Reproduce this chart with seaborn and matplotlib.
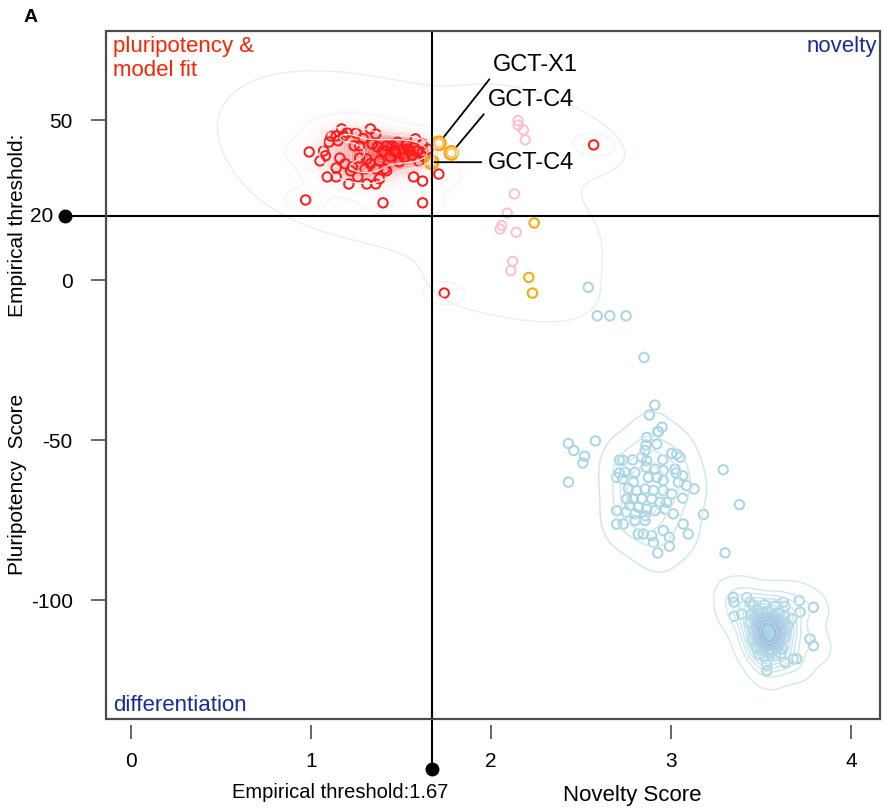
import numpy as np
import pandas as pd
import seaborn as sns
import matplotlib.pyplot as plt
import matplotlib.transforms as mtransforms
from matplotlib.colors import LinearSegmentedColormap
from matplotlib.patches import Rectangle

# ---- data (novelty score, pluripotency score) ----
red_x = [0.99, 1.05, 1.07, 1.08, 1.10, 1.14, 1.17, 1.18, 1.11, 1.16, 1.14, 1.09, 1.14, 1.21,
         1.23, 1.26, 1.25, 1.24, 1.27, 1.27, 1.30, 1.33, 1.31, 1.36, 1.38, 1.42, 1.33, 1.36,
         1.34, 1.37, 1.40, 1.38, 1.36, 1.41, 1.45, 1.46, 1.49, 1.51, 1.54, 1.55, 1.58, 1.59,
         1.62, 1.62, 1.63, 1.57, 1.62, 1.71, 0.97, 1.40, 1.62, 1.47, 1.53, 1.42, 1.31, 1.22,
         1.19, 1.65, 1.20, 1.15, 1.29, 1.44, 1.52, 1.60, 1.48, 1.56, 2.57, 1.74]
red_y = [40.0, 37.2, 40.3, 38.8, 43.1, 45.0, 47.2, 45.0, 45.0, 38.1, 35.0, 32.2, 32.2, 30.0,
         35.3, 32.2, 45.9, 41.9, 41.9, 38.1, 34.7, 36.3, 30.0, 30.0, 31.6, 34.1, 47.2, 45.6,
         42.5, 41.6, 40.3, 37.2, 34.7, 34.7, 41.9, 40.3, 36.9, 40.9, 40.9, 40.3, 44.1, 40.3,
         42.5, 40.0, 38.4, 32.2, 30.9, 33.1, 25.0, 24.1, 24.1, 40.0, 42.2, 41.9, 37.8, 34.1,
         36.3, 40.9, 46.0, 43.5, 44.2, 38.5, 38.2, 37.0, 43.0, 39.0, 42.2, -4.1]

pink_x = [2.15, 2.15, 2.18, 2.19, 2.13, 2.09, 2.06, 2.05, 2.14, 2.12, 2.11]
pink_y = [49.8, 48.4, 46.9, 43.8, 26.9, 20.9, 17.0, 15.9, 14.9, 5.8, 2.9]

orange_x = [2.24, 2.21, 2.23]
orange_y = [17.8, 0.8, -4.1]

gct_names = ['GCT-X1', 'GCT-C4', 'GCT-C4']
gct_x = [1.71, 1.78, 1.67]
gct_y = [42.7, 39.7, 36.8]

sparse_x = [2.54, 2.59, 2.66, 2.75, 2.85, 2.91, 2.88, 2.43, 2.46, 2.52, 2.51, 2.58, 2.43,
            3.29, 3.18, 3.30, 3.38, 2.95, 2.93]
sparse_y = [-2.3, -11.2, -11.2, -11.2, -24.2, -39.1, -42.2, -51.1, -53.3, -55.1, -57.2, -50.3,
            -63.2, -59.3, -73.3, -85.3, -70.2, -46.0, -47.4]

blue1_x = [2.865, 2.861, 2.921, 2.926, 2.856, 2.837, 2.787, 2.713, 2.732, 2.865, 2.954, 3.004,
           3.032, 3.050, 2.861, 2.911, 2.957, 3.022, 3.028, 2.713, 2.744, 2.800, 2.698, 2.732,
           2.791, 2.874, 2.921, 2.957, 3.041, 3.065, 3.087, 3.128, 2.763, 2.809, 2.856, 2.902,
           2.957, 3.004, 3.065, 2.754, 2.791, 2.837, 2.893, 2.939, 2.976, 2.772, 2.818, 2.865,
           2.911, 2.967, 3.013, 2.698, 2.750, 2.800, 2.856, 2.698, 2.735, 2.800, 2.856, 2.957,
           3.068, 3.096, 2.818, 2.846, 2.893, 2.902, 2.991, 2.991, 2.926]
blue1_y = [-49.2, -51.6, -51.3, -47.4, -53.3, -55.4, -56.2, -56.3, -56.3, -56.5, -56.2, -54.2,
           -54.4, -55.4, -58.5, -59.1, -59.6, -59.1, -60.3, -60.3, -60.1, -60.1, -61.7, -62.2,
           -63.2, -61.7, -61.7, -62.7, -63.2, -61.2, -64.3, -65.3, -65.1, -65.8, -65.3, -65.8,
           -65.8, -66.9, -68.2, -68.4, -68.4, -68.4, -68.4, -69.5, -69.5, -70.5, -71.0, -71.6,
           -72.1, -71.6, -73.1, -72.1, -72.6, -73.1, -73.7, -76.3, -76.3, -75.2, -75.2, -78.3,
           -76.3, -79.4, -79.4, -79.4, -79.9, -82.0, -80.4, -83.2, -85.3]

blue2_x = [3.346, 3.350, 3.350, 3.421, 3.439, 3.393, 3.624, 3.633, 3.713, 3.791, 3.717, 3.671,
           3.772, 3.791, 3.698, 3.679, 3.633, 3.532, 3.532, 3.476,
           3.45, 3.48, 3.51, 3.54, 3.57, 3.60, 3.63, 3.44, 3.47, 3.50, 3.53, 3.56, 3.59, 3.62,
           3.65, 3.46, 3.49, 3.52, 3.55, 3.58, 3.61, 3.64, 3.45, 3.48, 3.51, 3.54, 3.57, 3.60,
           3.63, 3.47, 3.50, 3.53, 3.56, 3.59, 3.62, 3.49, 3.52, 3.55, 3.58, 3.61, 3.53, 3.56,
           3.50, 3.58, 3.52, 3.46,
           3.465, 3.495, 3.525, 3.555, 3.585, 3.615, 3.475, 3.505, 3.535, 3.565, 3.595, 3.625,
           3.485, 3.515, 3.545, 3.575, 3.605, 3.505, 3.535, 3.565, 3.595, 3.545]
blue2_y = [-99.2, -100.7, -105.1, -99.2, -100.7, -104.4, -100.7, -102.0, -100.2, -102.3, -103.8,
           -105.9, -112.2, -114.3, -118.4, -118.4, -119.5, -120.3, -122.1, -115.3,
           -104.5, -103.2, -104.0, -103.5, -104.8, -103.9, -105.1, -107.2, -106.5, -107.8, -106.9,
           -107.3, -106.2, -107.6, -108.0, -109.5, -110.2, -109.1, -110.6, -109.8, -110.4, -109.3,
           -112.3, -111.8, -112.9, -112.0, -113.1, -112.4, -111.7, -114.6, -115.2, -114.4, -115.6,
           -114.9, -115.3, -117.0, -117.8, -116.9, -117.5, -116.8, -108.4, -111.5, -105.8, -101.9,
           -101.5, -101.8,
           -105.6, -106.1, -105.3, -106.4, -105.9, -106.8, -108.9, -108.2, -109.7, -108.6, -108.1,
           -109.9, -111.3, -110.9, -111.9, -111.1, -112.0, -113.6, -113.2, -114.0, -113.4, -116.1]

threshold_x = 1.67
threshold_y = 20
x_ticks = [0, 1, 2, 3, 4]
y_ticks = [-100, -50, 0, 50]

red = pd.DataFrame({'novelty': red_x, 'pluri': red_y})
blue1 = pd.DataFrame({'novelty': blue1_x, 'pluri': blue1_y})
blue2 = pd.DataFrame({'novelty': blue2_x, 'pluri': blue2_y})
upper = pd.DataFrame({'novelty': red_x + pink_x + orange_x + gct_x,
                      'pluri': red_y + pink_y + orange_y + gct_y})

sns.set_style('ticks')
plt.rcParams['font.family'] = ['Liberation Sans', 'DejaVu Sans']
plt.rcParams['text.color'] = 'black'
plt.rcParams['xtick.labelcolor'] = 'black'
plt.rcParams['ytick.labelcolor'] = 'black'

fig = plt.figure(figsize=(8.83, 8.12), dpi=100)
ax = fig.add_axes([106 / 883, 92 / 812, 774 / 883, 688 / 812])

# density contours
sns.kdeplot(data=upper, x='novelty', y='pluri', levels=[0.04], bw_adjust=1.6,
            color='#e4f0f2', linewidths=1, ax=ax)
glow = LinearSegmentedColormap.from_list(
    'glow', [(1, 1, 1, 0), (1, 0.9, 0.9, 0.25), (1, 0.55, 0.55, 0.45), (1, 0.1, 0.1, 0.8)])
sns.kdeplot(data=red, x='novelty', y='pluri', fill=True, cmap=glow, levels=40, thresh=0.04,
            bw_adjust=0.95, ax=ax)
sns.kdeplot(data=red, x='novelty', y='pluri', levels=4, thresh=0.03, bw_adjust=0.7,
            color='#edf5f6', linewidths=0.8, ax=ax)
sns.kdeplot(data=blue1, x='novelty', y='pluri', levels=5, thresh=0.05, bw_adjust=1.25,
            color='#cce6ed', linewidths=1, ax=ax)
ring = LinearSegmentedColormap.from_list('ring', ['#d3e9ef', '#bcdde8', '#9aa8e4'])
sns.kdeplot(data=blue2, x='novelty', y='pluri', levels=14, thresh=0.01, bw_adjust=1.35,
            cmap=ring, linewidths=1, ax=ax)

# points
pt = dict(s=46, facecolors='none', linewidth=1.4, ax=ax, legend=False)
sns.scatterplot(x=blue1_x + sparse_x + blue2_x, y=blue1_y + sparse_y + blue2_y,
                edgecolor='#a8d5e3', **pt)
sns.scatterplot(x=pink_x, y=pink_y, edgecolor='#ffc0cb', **pt)
sns.scatterplot(x=red_x, y=red_y, edgecolor='#ff1a1a', **pt)
sns.scatterplot(x=orange_x, y=orange_y, edgecolor='#ffa500', **pt)
sns.scatterplot(x=gct_x, y=gct_y, s=95, facecolors='none', linewidth=1.6,
                edgecolor='#ffa000', ax=ax, legend=False)
sns.scatterplot(x=gct_x, y=gct_y, s=40, facecolors='none', linewidth=1.2,
                edgecolor='#ffbe4d', ax=ax, legend=False)

ax.set_xlim(-0.139, 4.161)
ax.set_ylim(-137.2, 77.8)
ax.set_xlabel('')
ax.set_ylabel('')

# threshold lines, extended outside the box
tx = mtransforms.blended_transform_factory(ax.transData, ax.transAxes)
ty = mtransforms.blended_transform_factory(ax.transAxes, ax.transData)
ax.plot([threshold_x, threshold_x], [1, -0.073], transform=tx, color='black', lw=1.5,
        clip_on=False, zorder=6)
ax.plot([threshold_x], [-0.073], 'o', transform=tx, color='black', ms=9, clip_on=False, zorder=6)
ax.plot([-0.053, 1], [threshold_y, threshold_y], transform=ty, color='black', lw=1.5,
        clip_on=False, zorder=6)
ax.plot([-0.053], [threshold_y], 'o', transform=ty, color='black', ms=9, clip_on=False, zorder=6)
ax.text(-0.068, threshold_y, str(threshold_y), transform=ty, ha='right', va='center', fontsize=15)

# box + R-like axes
for s in ax.spines.values():
    s.set_color('none')
ax.spines['bottom'].set_position(('outward', 4))
ax.add_patch(Rectangle((0, 0), 1, 1, transform=ax.transAxes, fill=False, lw=1.6,
                       edgecolor='#4d4d4d', clip_on=False, zorder=7))
ax.set_xticks(x_ticks)
ax.set_yticks(y_ticks)
ax.set_yticklabels([str(v) for v in y_ticks])
ax.tick_params(axis='x', direction='out', length=10, width=1.2, color='#4d4d4d',
               labelsize=15, pad=9)
ax.tick_params(axis='y', direction='out', length=11, width=1.2, color='#4d4d4d',
               labelsize=15, pad=13)

# annotations of the GCT lines
lowleft = dict(arrowstyle='-', color='black', lw=1.3, relpos=(0, 0), shrinkA=1, shrinkB=6)
ax.annotate(gct_names[0], xy=(gct_x[0], gct_y[0]), xytext=(2.01, 67.5), ha='left',
            va='center', fontsize=17, arrowprops=lowleft, zorder=8)
ax.annotate(gct_names[1], xy=(gct_x[1], gct_y[1]), xytext=(1.98, 56.6), ha='left',
            va='center', fontsize=17, arrowprops=lowleft, zorder=8)
ax.annotate(gct_names[2], xy=(gct_x[2], gct_y[2]), xytext=(1.98, 36.8), ha='left',
            va='center', fontsize=17, zorder=8,
            arrowprops=dict(arrowstyle='-', color='black', lw=1.3, relpos=(0, 0.5),
                            shrinkA=2, shrinkB=2))

# quadrant labels
ax.text(0.009, 0.994, 'pluripotency &\nmodel fit', transform=ax.transAxes, ha='left', va='top',
        color='#ff2200', fontsize=16, linespacing=1.15)
ax.text(0.996, 0.994, 'novelty', transform=ax.transAxes, ha='right', va='top',
        color='#1a2a9a', fontsize=16)
ax.text(0.009, 0.006, 'differentiation', transform=ax.transAxes, ha='left', va='bottom',
        color='#1a2a9a', fontsize=16)

# axis titles
fig.text(18 / 883, 1 - 225 / 812, 'Empirical threshold:', rotation=90, ha='center',
         va='center', fontsize=15)
fig.text(18 / 883, 1 - 484 / 812, 'Pluripotency  Score', rotation=90, ha='center',
         va='center', fontsize=15)
fig.text(340 / 883, 1 - 793 / 812, 'Empirical threshold:1.67', ha='center', va='center',
         fontsize=14.5)
fig.text(632 / 883, 1 - 796 / 812, 'Novelty Score', ha='center', va='center', fontsize=16)
fig.text(31 / 883, 1 - 18 / 812, 'A', ha='center', va='center', fontsize=14, fontweight='bold')

fig.savefig('out.png', dpi=100)
